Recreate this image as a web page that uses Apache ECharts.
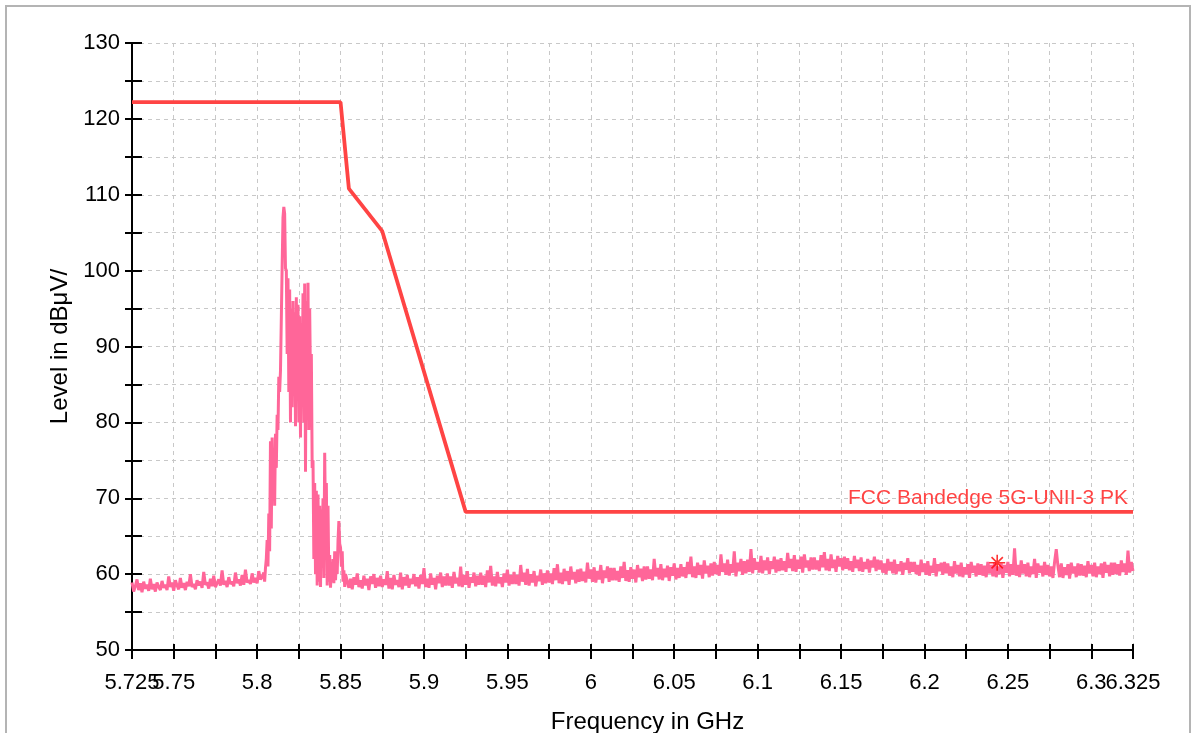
<!DOCTYPE html>
<html>
<head>
<meta charset="utf-8">
<script src="https://cdn.jsdelivr.net/npm/echarts@6/dist/echarts.min.js"></script>
<style>
html,body{margin:0;padding:0;background:#fff;}
#chart{width:1194px;height:733px;}
</style>
</head>
<body>
<div id="chart"></div>
<script>
// ---- Data ----
const xTickLabels = ['5.75','5.8','5.85','5.9','5.95','6','6.05','6.1','6.15','6.2','6.25','6.3'];
const xEndLabels = ['5.725','6.325'];
const yTickLabels = ['50','60','70','80','90','100','110','120','130'];
const limitName = 'FCC Bandedge 5G-UNII-3 PK';
// limit line (GHz, dBµV/m)
const limitFreq  = [5.725, 5.85, 5.855, 5.875, 5.925, 6.325];
const limitLevel = [122.2, 122.2, 110.8, 105.2, 68.2, 68.2];

// measured trace, segment 1: 5.725 GHz onwards, step 0.001 GHz
const seg1Start = 5.725, seg1Step = 0.001;
const seg1Level = [
  58.9,57.7,58.4,59.3,57.9,58.8,57.6,59.0,58.1,58.6,57.8,59.4,58.0,58.7,57.7,58.9,58.3,57.9,59.1,58.2,
  58.6,57.9,59.7,58.3,58.9,57.8,59.2,58.5,58.0,59.5,58.2,58.8,57.9,59.0,58.4,60.0,58.3,58.7,58.0,59.2,
  58.5,59.0,58.2,60.3,58.6,58.9,58.1,59.4,58.4,59.8,58.3,58.8,59.3,58.5,60.5,58.6,59.1,58.3,59.6,58.7,
  59.0,58.4,60.2,58.8,59.3,58.5,59.9,58.6,60.6,58.9,59.2,58.7,60.1,58.9,59.5,58.8,60.4,59.3,59.6];

// segment 2 (emission), frequency / level pairs
const peakFreq = [5.8035,5.804,5.8045,5.805,5.8055,5.806,5.8065,5.807,5.8075,5.808,
  5.8085,5.809,5.8095,5.810,5.8105,5.811,5.8115,5.812,5.8125,5.813,
  5.8135,5.814,5.8145,5.815,5.8155,5.816,5.8165,5.817,5.8175,5.818,
  5.8185,5.819,5.8195,5.820,5.8205,5.821,5.8215,5.822,5.8225,5.823,
  5.8235,5.824,5.8245,5.825,5.8255,5.826,5.8265,5.827,5.8275,5.828,
  5.8285,5.829,5.8295,5.830,5.8305,5.831,5.8315,5.832,5.8325,5.833,
  5.8335,5.834,5.8345,5.835,5.8355,5.836,5.8365,5.837,5.8375,5.838,
  5.8385,5.839,5.8395,5.840,5.8405,5.841,5.8415,5.842,5.8425,5.843,
  5.8435,5.844,5.8445,5.845,5.8455,5.846,5.8465,5.847,5.8475,5.848,
  5.8485,5.849,5.8495,5.850,5.8505,5.851,5.8515,5.852,5.8525,5.853];
const peakLevel = [59.5,60.2,59.0,60.8,62.0,64.5,61.0,68.0,63.0,77.5,
  66.0,78.0,70.0,76.5,69.0,78.5,74.0,81.0,79.0,86.0,
  84.0,86.8,87.0,100.5,107.0,108.4,107.5,100.3,100.0,89.0,
  99.0,84.0,97.5,80.0,95.0,82.0,96.0,85.0,94.5,79.5,
  96.5,83.0,95.5,80.0,94.0,78.0,93.0,84.0,97.0,80.0,
  98.3,73.5,96.0,82.0,98.4,79.0,95.0,85.0,89.0,74.0,
  75.0,62.0,72.0,60.0,71.0,58.5,70.5,59.0,69.0,58.3,
  68.5,64.0,70.0,59.5,76.0,66.0,72.0,58.5,69.0,59.0,
  62.5,58.2,61.5,59.0,62.0,58.8,63.0,59.2,62.0,60.0,
  64.5,67.0,64.0,63.5,61.0,63.0,59.0,60.5,58.3,60.0];

// segment 3: 5.854 GHz onwards, step 0.001 GHz
const seg3Start = 5.854, seg3Step = 0.001;
const seg3Level = [
  59.9,58.2,59.4,58.0,59.6,58.6,60.1,58.3,59.2,58.1,59.8,58.5,59.4,57.9,59.7,58.7,60.0,58.2,59.5,58.4,
  59.8,58.3,59.3,58.6,60.4,58.1,59.5,58.0,59.9,58.6,59.2,58.3,60.2,58.0,59.6,58.5,59.9,58.2,59.4,58.7,
  60.0,58.4,59.6,58.1,59.9,58.7,60.8,58.3,59.4,58.2,60.1,58.6,59.5,58.0,59.8,58.8,60.2,58.3,59.7,58.5,
  60.1,58.5,59.7,58.2,60.3,58.8,59.5,58.4,61.0,58.3,59.9,58.6,60.4,58.2,59.6,58.9,60.2,58.4,59.8,58.6,
  60.2,58.6,59.8,58.3,60.5,58.9,61.1,58.5,59.7,58.4,60.3,58.8,59.6,58.3,60.1,58.9,60.6,58.5,59.9,58.7,
  60.3,58.7,59.9,58.5,61.2,59.0,60.2,58.6,60.7,58.5,60.0,58.9,60.4,58.4,59.8,59.1,60.6,58.6,60.1,58.8,
  60.5,58.9,60.1,58.7,60.8,59.2,61.3,58.8,60.2,58.7,60.7,59.1,60.4,58.6,61.0,59.3,60.3,58.8,60.6,59.0,
  60.7,59.1,60.3,58.9,61.5,59.4,60.6,59.0,60.9,58.9,60.4,59.3,61.2,58.8,60.5,59.5,61.0,59.0,60.8,59.2,
  60.8,59.2,60.4,59.0,61.0,59.5,61.6,59.1,60.5,59.0,60.9,59.4,60.6,58.9,61.2,59.6,60.7,59.1,61.0,59.3,
  61.0,59.4,60.6,59.2,62.0,59.7,60.8,59.3,61.3,59.2,60.7,59.6,61.1,59.1,60.9,59.8,61.4,59.3,60.8,59.5,
  61.3,59.7,60.9,59.5,61.6,60.0,62.3,59.6,61.0,59.5,61.5,59.9,61.2,59.4,61.8,60.1,61.1,59.6,61.4,59.8,
  61.6,60.0,61.2,59.8,62.6,60.3,61.4,59.9,61.9,59.8,61.3,60.2,63.0,59.7,61.5,60.4,62.0,59.9,61.7,60.1,
  61.9,60.3,63.3,60.1,62.1,60.6,61.6,60.2,62.4,60.1,61.8,60.5,62.2,60.0,61.7,60.7,62.3,60.2,61.9,60.4,
  62.1,60.5,61.7,60.3,62.8,60.8,62.0,60.4,62.5,60.3,61.9,60.7,62.3,60.2,62.6,60.9,61.8,60.4,62.2,60.6,
  62.2,60.6,61.8,60.4,62.5,60.9,62.9,60.5,62.0,60.4,62.6,60.8,61.9,60.3,62.4,61.0,62.1,60.5,62.3,60.7,
  62.1,60.5,61.7,60.3,62.4,60.8,61.9,60.4,62.2,60.3,61.6,60.7,62.0,60.2,61.8,60.9,62.3,60.4,61.9,60.6,
  61.8,60.2,61.4,60.0,62.0,60.5,61.6,60.1,61.9,60.0,61.3,60.4,61.7,59.9,61.5,60.6,62.1,60.1,61.6,60.3,
  61.6,60.0,61.2,59.8,61.9,60.3,61.4,59.9,61.7,59.8,61.1,60.2,62.1,59.7,61.3,60.4,61.5,59.9,61.6,60.1,
  61.4,59.8,61.0,59.6,61.7,60.1,61.2,59.7,61.5,59.6,60.9,60.0,61.3,59.5,61.6,60.2,61.1,59.7,61.4,59.9,
  61.3,59.8,61.1,59.6,61.6,60.1,61.2,59.7,61.5,59.6,61.0,60.0,61.4,59.5,61.2,60.2,61.6,59.7,61.3,59.9,
  63.4,59.8,61.2,59.6,61.8,60.1,61.3,59.7,61.5,59.6,61.0,60.0,62.0,59.5,61.4,60.2,61.1,59.7,61.6,59.9,
  61.2,59.7,61.0,59.5,61.6,63.3,61.1,59.6,61.4,59.5,60.9,59.9,61.3,59.4,61.5,60.1,61.0,59.6,61.4,59.8,
  61.3,59.8,61.1,59.6,61.7,60.1,61.2,59.7,61.5,59.6,61.0,60.0,61.4,59.5,61.6,60.2,61.2,59.7,61.5,59.9,
  61.5,60.0,61.3,59.8,61.8,60.3,61.4,59.9,63.1,60.2,61.6,60.4];

// marker
const markerFreq = 6.2436, markerLevel = 61.5;

// ---- Build ----
const trace = [];
seg1Level.forEach((v,i)=>trace.push([+(seg1Start+i*seg1Step).toFixed(4), v]));
peakLevel.forEach((v,i)=>trace.push([peakFreq[i], v]));
seg3Level.forEach((v,i)=>trace.push([+(seg3Start+i*seg3Step).toFixed(4), v]));
const limit = limitFreq.map((f,i)=>[f, limitLevel[i]]);
const limitEnd = limit[limit.length-1];

const FONT = 'Liberation Sans, Arial, sans-serif';
const fmt = v => String(+(+v).toFixed(3));
const isLabelY = v => yTickLabels.indexOf(String(Math.round(v))) >= 0 && Math.abs(v - Math.round(v)) < 1e-6;

const chart = echarts.init(document.getElementById('chart'), null, {renderer:'canvas'});
const star = 'path://M-1,-10L1,-10L1,10L-1,10Z M-10,-1L10,-1L10,1L-10,1Z M-7.78,-6.36L-6.36,-7.78L7.78,6.36L6.36,7.78Z M6.36,-7.78L7.78,-6.36L-6.36,7.78L-7.78,6.36Z';

chart.setOption({
  animation:false,
  backgroundColor:'#ffffff',
  graphic:[{type:'rect', shape:{x:6, y:6, width:1184, height:760}, style:{fill:'none', stroke:'#b4b4b4', lineWidth:2}, z:-1}],
  grid:{left:132, right:61, top:43, bottom:83, containLabel:false, outerBoundsMode:'none'},
  xAxis:[{
    type:'value', min:5.725, max:6.325, interval:0.025,
    name:'Frequency in GHz', nameLocation:'middle', nameGap:60,
    nameTextStyle:{fontSize:24, color:'#000', fontFamily:FONT, padding:[0,0,0,30]},
    axisLine:{show:true, onZero:false, lineStyle:{color:'#000', width:2}},
    axisTick:{show:true, length:9, lineStyle:{color:'#000', width:2}},
    axisLabel:{show:true, margin:22, fontSize:22, color:'#000', fontFamily:FONT, hideOverlap:false,
      formatter: v => xTickLabels.indexOf(fmt(v)) >= 0 ? fmt(v) : ''},
    splitLine:{show:true, lineStyle:{color:'#c8c8c8', type:[4,4], width:1}}
  },{
    type:'value', min:5.725, max:6.325, interval:0.025, position:'bottom',
    axisLine:{show:false}, splitLine:{show:false},
    axisLabel:{show:true, margin:22, fontSize:22, color:'#000', fontFamily:FONT, showMinLabel:true, showMaxLabel:true,
      formatter: v => xEndLabels.indexOf(fmt(v)) >= 0 ? fmt(v) : ''},
    axisTick:{show:true, inside:true, length:6, lineStyle:{color:'#000', width:2}}
  }],
  yAxis:[{
    type:'value', min:50, max:130, interval:5,
    name:'Level in dBμV/', nameLocation:'middle', nameGap:56,
    nameTextStyle:{fontSize:24, color:'#000', fontFamily:FONT},
    axisLine:{show:true, onZero:false, lineStyle:{color:'#000', width:2}},
    axisTick:{show:true, length:7, lineStyle:{color:'#000', width:2}},
    axisLabel:{show:true, margin:12, fontSize:22, color:'#000', fontFamily:FONT,
      formatter: v => isLabelY(v) ? String(Math.round(v)) : ''},
    splitLine:{show:true, lineStyle:{color:'#c8c8c8', type:[4,4], width:1}}
  },{
    type:'value', min:50, max:130, interval:5, position:'left',
    axisLine:{show:false}, axisLabel:{show:false}, splitLine:{show:false},
    axisTick:{show:true, inside:true, length:10, lineStyle:{color:'#000', width:2}}
  }],
  series:[{
    type:'line', data:trace, showSymbol:false, symbol:'none', sampling:null,
    lineStyle:{color:'#ff6699', width:3, join:'bevel'}, itemStyle:{color:'#ff6699'}, z:2
  },{
    type:'line', data:limit, showSymbol:false, symbol:'none',
    lineStyle:{color:'#ff4444', width:3.8}, itemStyle:{color:'#ff4444'}, z:3,
    markPoint:{
      symbol:'circle', symbolSize:1, itemStyle:{color:'rgba(0,0,0,0)'},
      data:[{coord:limitEnd, value:limitName,
        label:{show:true, formatter: limitName, position:'top', align:'right', distance:3,
               offset:[-5,0], color:'#ff4444', fontSize:21, fontFamily:FONT}}]
    }
  },{
    type:'scatter', data:[[markerFreq, markerLevel]], symbol:star, symbolSize:16,
    itemStyle:{color:'#ff0000'}, z:4
  }]
});
</script>
</body>
</html>
